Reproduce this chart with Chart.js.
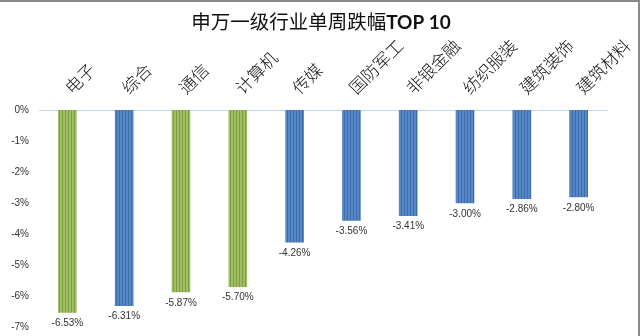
<!DOCTYPE html>
<html>
<head>
<meta charset="utf-8">
<script src="https://cdn.jsdelivr.net/npm/chart.js@4"></script>
<style>
  html, body { margin: 0; padding: 0; background: #fff; }
  #wrap { width: 640px; height: 336px; position: relative; }
</style>
</head>
<body>
<div id="wrap"><canvas id="chartCanvas" width="640" height="336"></canvas></div>
<script>
// industries (SW level 1) and weekly change, %
const categories = ['电子', '综合', '通信', '计算机', '传媒', '国防军工', '非银金融', '纺织服装', '建筑装饰', '建筑材料'];
const weeklyChange = [-6.53, -6.31, -5.87, -5.70, -4.26, -3.56, -3.41, -3.00, -2.86, -2.80];
const highlighted = [true, false, true, true, false, false, false, false, false, false];
const yTicks = [0, -1, -2, -3, -4, -5, -6, -7];

function stripes(base, line) {
    const c = document.createElement('canvas');
    c.width = 3; c.height = 4;
    const g = c.getContext('2d');
    g.fillStyle = base;
    g.fillRect(0, 0, 3, 4);
    g.fillStyle = line;
    g.fillRect(2, 0, 1, 4);
    return g.createPattern(c, 'repeat');
}

const ctx = document.getElementById('chartCanvas').getContext('2d');
const greenFill = stripes('#a0be62', '#7e9c46');
const blueFill = stripes('#5586c6', '#3e6daa');

const titlePlugin = {
    id: 'mixedTitle',
    afterDraw(chart) {
        const c = chart.ctx;
        c.save();
        // frame lines on top and right
        c.strokeStyle = '#8a8a8a';
        c.lineWidth = 2;
        c.beginPath();
        c.moveTo(0, 1);
        c.lineTo(639, 1);
        c.lineTo(639, 336);
        c.stroke();

        const part1 = '申万一级行业单周跌幅';
        const part2 = 'TOP 10';
        c.textBaseline = 'middle';
        c.fillStyle = '#111';
        c.font = '19.5px "Noto Sans CJK SC"';
        const w1 = c.measureText(part1).width;
        c.font = 'bold 19px Lato';
        const w2 = c.measureText(part2).width;
        let x = 321 - (w1 + w2) / 2;
        c.font = '19.5px "Noto Sans CJK SC"';
        c.textAlign = 'left';
        c.fillText(part1, x, 22);
        c.font = 'bold 19px Lato';
        c.fillText(part2, x + w1, 23);
        c.restore();
    }
};

const valueLabels = {
    id: 'valueLabels',
    afterDatasetsDraw(chart) {
        const c = chart.ctx;
        const meta = chart.getDatasetMeta(0);
        c.save();
        c.font = '10px "Liberation Sans"';
        c.fillStyle = '#333';
        c.textAlign = 'center';
        c.textBaseline = 'middle';
        meta.data.forEach((bar, i) => {
            c.fillText(weeklyChange[i].toFixed(2) + '%', bar.x, bar.y + 11);
        });
        c.restore();
    }
};

new Chart(ctx, {
    type: 'bar',
    data: {
        labels: categories,
        datasets: [{
            data: weeklyChange,
            backgroundColor: highlighted.map(h => h ? greenFill : blueFill),
            borderWidth: 0,
            barThickness: 18,
        }],
    },
    options: {
        responsive: false,
        animation: false,
        layout: { padding: { left: 2, right: 25, top: 0, bottom: 9 } },
        plugins: {
            legend: { display: false },
            title: { display: false },
            tooltip: { enabled: false },
        },
        scales: {
            x: {
                position: 'top',
                grid: { display: false, drawTicks: false },
                border: { display: true, color: '#c4dcec', dash: [1, 2], width: 1 },
                ticks: {
                    autoSkip: false,
                    maxRotation: 45,
                    minRotation: 45,
                    padding: 12,
                    labelOffset: 15,
                    color: '#111',
                    font: { family: '"Noto Sans CJK SC"', size: 17, weight: 300 },
                },
                afterFit(scale) { scale.height = 110; },
            },
            y: {
                min: -7,
                max: 0,
                afterBuildTicks(scale) { scale.ticks = yTicks.map(v => ({ value: v })); },
                grid: { display: false, drawTicks: false },
                border: { display: false },
                ticks: {
                    padding: 10,
                    color: '#333',
                    font: { family: '"Liberation Sans"', size: 10 },
                    callback: v => v + '%',
                },
                afterFit(scale) {
                    scale.width = 37;
                    scale.paddingTop = 0;
                    scale.paddingBottom = 0;
                },
            },
        },
    },
    plugins: [titlePlugin, valueLabels],
});
</script>
</body>
</html>
